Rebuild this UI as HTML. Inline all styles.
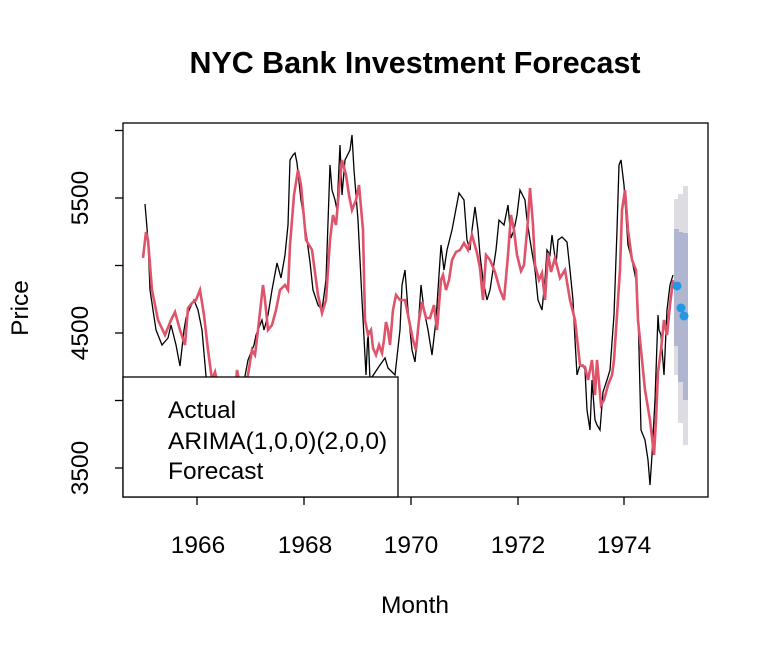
<!DOCTYPE html><html><head><style>body{margin:0;background:#fff}</style></head><body>
<svg width="768" height="651" xmlns="http://www.w3.org/2000/svg" font-family="Liberation Sans, Arial, sans-serif">
<rect width="768" height="651" fill="#fff"/>
<text x="415" y="73" text-anchor="middle" font-size="30.4" font-weight="bold">NYC Bank Investment Forecast</text>
<defs><clipPath id="c"><rect x="123" y="123" width="585" height="374"/></clipPath></defs>
<g clip-path="url(#c)">
<rect x="674" y="199" width="5" height="176" fill="#dcdce2"/>
<rect x="678" y="194" width="5" height="229" fill="#dcdce2"/>
<rect x="683" y="186" width="5" height="259" fill="#dcdce2"/>
<rect x="674" y="229" width="5" height="117" fill="#b0b5d0"/>
<rect x="678" y="232" width="5" height="150" fill="#b0b5d0"/>
<rect x="683" y="233" width="5" height="167" fill="#b0b5d0"/>
<polyline fill="none" stroke="#000" stroke-width="1.3" points="145,204 148,240 150,290 156,330 162,345 168,338 171,325 176,345 180,366 184,330 186,318 190,308 194,300 198,310 202,330 206,376 215,400 240,400 245,376 248,360 254,345 256,335 260,325 262,320 264,330 268,315 272,290 277,263 281,278 285,255 288,225 290,160 293,155 295,153 297,163 301,200 305,225 310,262 313,290 318,305 322,310 326,280 330,165 332,190 335,200 337,210 340,145 342,195 345,160 350,150 352,135 354,170 358,220 362,300 366,375 368,330 370,380 380,365 385,358 388,368 395,375 400,330 402,285 405,270 408,310 412,350 415,362 418,330 421,285 424,310 428,330 432,355 436,320 441,245 444,270 447,250 452,230 459,193 464,200 467,240 470,250 472,230 475,207 478,230 480,255 483,280 487,300 490,290 493,270 496,250 499,220 504,225 508,205 511,238 514,230 517,215 520,190 525,200 527,220 530,240 535,270 538,300 542,310 545,280 547,250 550,255 552,235 556,265 558,240 562,237 567,242 570,270 573,300 575,340 577,375 580,365 583,365 585,370 587,410 590,430 592,380 595,420 597,425 600,430 603,392 607,380 610,370 614,315 617,230 619,165 621,160 624,185 628,245 632,260 636,280 638,310 641,430 645,440 648,460 650,485 652,455 655,400 658,315 659,330 661,335 664,375 667,310 670,285 673,275"/>
<polyline fill="none" stroke="#df536b" stroke-width="2.6" points="143,258 146,232 148,240 152,290 158,320 165,335 171,320 175,312 180,330 185,345 188,308 192,303 196,300 200,290 204,315 208,350 212,380 215,372 220,395 235,395 237,370 242,395 248,375 252,350 255,355 258,330 263,285 265,300 268,330 272,325 276,310 280,290 285,285 288,290 290,245 294,195 298,170 301,185 306,240 312,250 318,295 322,313 326,300 330,240 333,215 336,225 339,190 342,160 346,175 349,195 352,210 356,200 359,185 363,230 365,320 368,335 371,330 373,348 376,355 379,345 382,353 384,340 386,322 388,330 390,345 393,310 396,295 400,300 405,300 409,320 413,340 416,350 419,320 422,302 426,318 430,318 434,305 437,330 441,280 443,275 446,290 449,280 452,260 456,252 460,250 464,243 468,250 472,235 477,253 480,268 483,300 486,255 490,260 495,272 500,290 504,300 508,255 511,215 514,230 517,255 521,271 524,265 528,220 530,188 533,225 535,265 539,280 542,273 545,300 548,253 551,272 555,258 560,278 565,270 570,300 575,320 580,365 585,367 588,380 592,360 595,395 597,360 601,405 604,400 608,385 612,375 614,360 616,330 620,270 622,210 625,190 628,230 632,260 636,270 638,320 642,360 645,390 650,420 654,455 656,420 658,372 661,350 664,320 667,335 670,305 673,280"/>
<circle cx="677" cy="286" r="4.5" fill="#2297e6"/>
<circle cx="681" cy="308" r="4.5" fill="#2297e6"/>
<circle cx="684" cy="316" r="4.5" fill="#2297e6"/>
</g>
<rect x="123" y="123" width="585" height="374" fill="none" stroke="#000" stroke-width="1.3"/>
<rect x="123" y="377" width="275" height="120" fill="#fff" stroke="#000" stroke-width="1.3"/>
<g font-size="24.5"><text x="168" y="418">Actual</text><text x="168" y="449">ARIMA(1,0,0)(2,0,0)</text><text x="168" y="479">Forecast</text></g>
<g stroke="#000" stroke-width="1.3">
<line x1="123" y1="130.5" x2="115" y2="130.5"/><line x1="123" y1="198" x2="115" y2="198"/><line x1="123" y1="265.5" x2="115" y2="265.5"/><line x1="123" y1="333" x2="115" y2="333"/><line x1="123" y1="400.5" x2="115" y2="400.5"/><line x1="123" y1="468" x2="115" y2="468"/>
<line x1="197" y1="497" x2="197" y2="505"/><line x1="304" y1="497" x2="304" y2="505"/><line x1="411" y1="497" x2="411" y2="505"/><line x1="518" y1="497" x2="518" y2="505"/><line x1="624" y1="497" x2="624" y2="505"/>
</g>
<g font-size="24.5" text-anchor="middle">
<text transform="translate(88,468) rotate(-90)">3500</text>
<text transform="translate(88,333) rotate(-90)">4500</text>
<text transform="translate(88,198) rotate(-90)">5500</text>
<text x="198" y="553">1966</text><text x="305" y="553">1968</text><text x="411" y="553">1970</text><text x="518" y="553">1972</text><text x="624" y="553">1974</text>
<text x="415" y="613">Month</text>
<text transform="translate(28,308) rotate(-90)">Price</text>
</g>
</svg></body></html>
